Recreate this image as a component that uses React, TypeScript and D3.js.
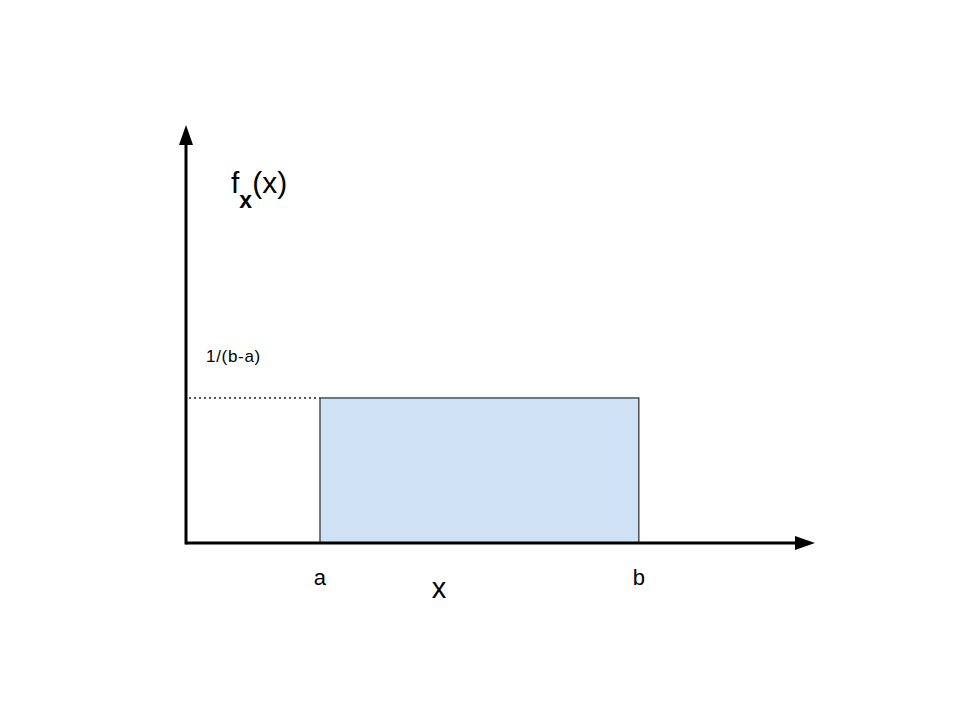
// @ts-nocheck
import * as d3 from "d3";
import React from "react";

// uniform distribution sketch, values in axis units (0..100)
const bounds = [21.3, 72.0]; // a, b
const boundLabels = ["a", "b"];
const density = [34.7]; // 1/(b-a) level
const densityLabel = "1/(b-a)";
const xAxisLabel = "x";
const yAxisLabel = ["f", "x", "(x)"];

const width = 960;
const height = 720;
const marginLeft = 186;
const marginRight = 145;
const marginTop = 125;
const marginBottom = 177;

const App = () => {
  const x = d3.scaleLinear([0, 100], [marginLeft, width - marginRight]);
  const y = d3.scaleLinear([0, 100], [height - marginBottom, marginTop]);
  const x0 = x(0);
  const y0 = y(0);
  const xEnd = x(100);
  const yEnd = y(100);
  const head = 20;
  const half = 7;
  const font = "'Liberation Sans', Arial, sans-serif";

  return (
    <svg
      width={width}
      height={height}
      style={{ position: "absolute", left: 0, top: 0, background: "#fff" }}
      fontFamily={font}
    >
      {/* uniform density block */}
      <rect
        x={x(bounds[0])}
        y={y(density[0])}
        width={x(bounds[1]) - x(bounds[0])}
        height={y0 - y(density[0])}
        fill="#cfe2f3"
        stroke="#000"
        strokeWidth={1}
      />
      <line
        x1={x0 + 3}
        x2={x(bounds[0])}
        y1={y(density[0])}
        y2={y(density[0])}
        stroke="#555"
        strokeWidth={2}
        strokeDasharray="2 3"
      />

      {/* axes */}
      <line x1={x0} x2={xEnd - head + 2} y1={y0} y2={y0} stroke="#000" strokeWidth={3} />
      <path
        d={`M${xEnd},${y0} L${xEnd - head},${y0 - half} L${xEnd - head},${y0 + half} Z`}
        fill="#000"
      />
      <line x1={x0} x2={x0} y1={y0 + 1.5} y2={yEnd + head - 2} stroke="#000" strokeWidth={3} />
      <path
        d={`M${x0},${yEnd} L${x0 - half},${yEnd + head} L${x0 + half},${yEnd + head} Z`}
        fill="#000"
      />

      {/* labels */}
      {bounds.map((v, i) => (
        <text key={i} x={x(v)} y={585} textAnchor="middle" fontSize={22} fill="#000">
          {boundLabels[i]}
        </text>
      ))}
      <text x={439} y={598} textAnchor="middle" fontSize={29} fill="#000">
        {xAxisLabel}
      </text>
      <text x={206} y={362} fontSize={17} letterSpacing={0.7} fill="#000">
        {densityLabel}
      </text>
      <text x={231} y={193} fontSize={30} fill="#000">
        {yAxisLabel[0]}
        <tspan dy={15} fontSize={23} fontWeight="bold">{yAxisLabel[1]}</tspan>
        <tspan dy={-15}>{yAxisLabel[2]}</tspan>
      </text>
    </svg>
  );
};

export default App;
